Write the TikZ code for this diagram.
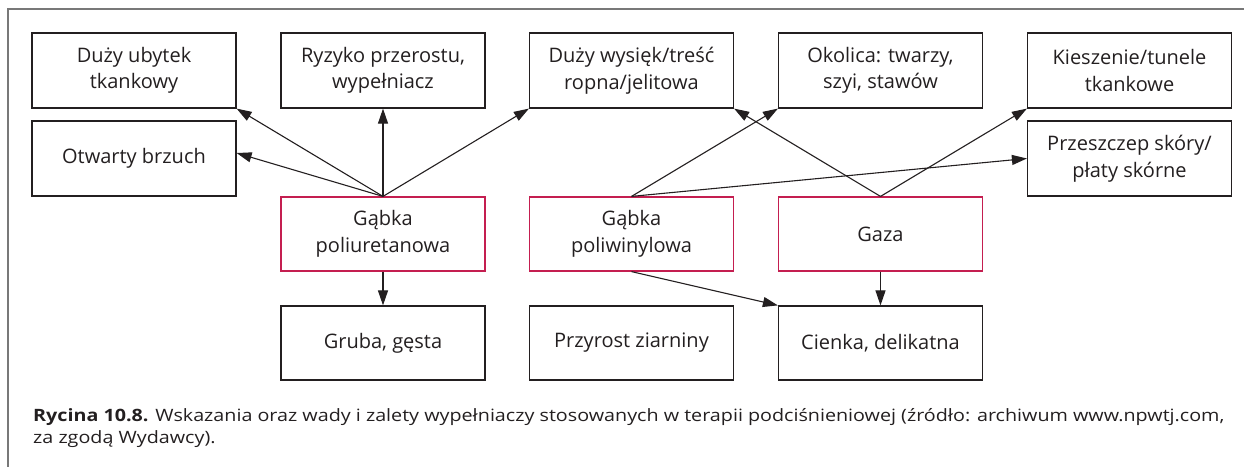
\documentclass[tikz,border=0pt]{standalone}
\usepackage{fontspec}
\setmainfont{Open Sans}
\newfontfamily\podpisfont[FakeStretch=1.16]{Open Sans}
\usepackage{tikz}
\usetikzlibrary{arrows.meta}
\usetikzlibrary{positioning}
\definecolor{boxline}{RGB}{35,31,32}
\definecolor{fillerred}{RGB}{196,30,80}
\definecolor{framegray}{RGB}{120,120,120}
\tikzstyle{every node}+=[inner sep=0pt]
\tikzstyle{box}=[draw=boxline, line width=1.2pt, minimum width=204pt, minimum height=75pt, align=center, text=boxline, font=\fontsize{20}{26.5}\selectfont]
\tikzstyle{filler}=[box, draw=fillerred]
\tikzstyle{link}=[draw=boxline, line width=1.1pt, -{Triangle[length=15pt,width=10pt]}]
\tikzstyle{podpis}=[anchor=base west, text=boxline, font=\podpisfont\fontsize{17}{21}\selectfont]

\begin{document}
\begin{tikzpicture}[x=1pt, y=-1pt]
        \useasboundingbox (0,0) rectangle (1244,466);
        \draw [framegray, line width=1.4pt] (8,470) -- (8,9) -- (1250,9);
        % wskazania
        \node [box] (ubytek) at (134,70.5) {Duży ubytek\\tkankowy};
        \node [box] (przerost) at (383,70.5) {Ryzyko przerostu,\\wypełniacz};
        \node [box] (wysiek) at (631.5,70.5) {Duży wysięk/treść\\ropna/jelitowa};
        \node [box] (okolica) at (880.5,70.5) {Okolica: twarzy,\\szyi, stawów};
        \node [box] (kieszenie) at (1129.5,70.5) {Kieszenie/tunele\\tkankowe};
        \node [box] (brzuch) at (134,158.5) {Otwarty brzuch};
        \node [box] (przeszczep) at (1129.5,158.5) {Przeszczep skóry/\\płaty skórne};
        % wypelniacze
        \node [filler, minimum height=74pt] (pur) at (383,234) {Gąbka\\poliuretanowa};
        \node [filler, minimum height=74pt] (pva) at (631.5,234) {Gąbka\\poliwinylowa};
        \node [filler, minimum height=74pt] (gaza) at (880.5,234) {Gaza};
        % ziarnina
        \node [box, minimum height=74pt] (gruba) at (383,343) {Gruba, gęsta};
        \node [box, minimum height=74pt] (przyrost) at (631.5,343) {Przyrost ziarniny};
        \node [box, minimum height=74pt] (cienka) at (880.5,343) {Cienka, delikatna};
        % strzalki
        \draw [link] (pur.north) -- (ubytek.south east);
        \draw [link] (pur.north) -- ([yshift=5.5pt]brzuch.east);
        \draw [link] (pur.north) -- (przerost.south);
        \draw [link] (pur.north) -- (wysiek.south west);
        \draw [link] (pva.north) -- (okolica.south west);
        \draw [link] (pva.north) -- (przeszczep.west);
        \draw [link] (gaza.north) -- (wysiek.south east);
        \draw [link] (gaza.north) -- (kieszenie.south west);
        \draw [link] (pur.south) -- (gruba.north);
        \draw [link] (pva.south) -- (cienka.north west);
        \draw [link] (gaza.south) -- (cienka.north);
        % podpis
        \node [podpis] (podpis) at (33,421) {\textbf{Rycina 10.8.} Wskazania oraz wady i zalety wypełniaczy stosowanych w terapii podciśnieniowej (źródło: archiwum www.npwtj.com,};
        \node [podpis] (podpisdalej) at (33,443) {za zgodą Wydawcy).};
    \end{tikzpicture}
\end{document}
